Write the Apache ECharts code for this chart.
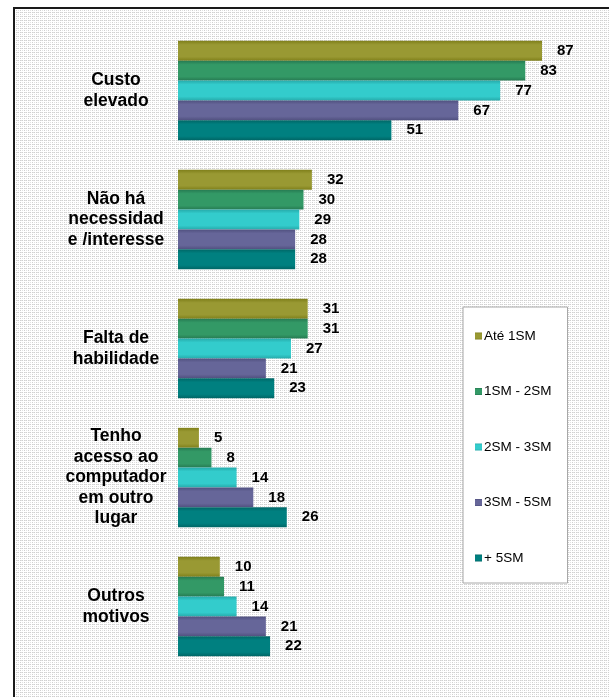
<!DOCTYPE html>
<html>
<head>
<meta charset="utf-8">
<style>
  html, body { margin: 0; padding: 0; background: #fff; }
  #chart { width: 609px; height: 697px; }
</style>
<script src="https://cdn.jsdelivr.net/npm/echarts@6/dist/echarts.min.js"></script>
</head>
<body>
<div id="chart"></div>
<script>
// Reasons for not having a computer, by income bracket (%)
const categories = [
  'Custo\nelevado',
  'Não há\nnecessidad\ne /interesse',
  'Falta de\nhabilidade',
  'Tenho\nacesso ao\ncomputador\nem outro\nlugar',
  'Outros\nmotivos'
];
const seriesNames = ['Até 1SM', '1SM - 2SM', '2SM - 3SM', '3SM - 5SM', '+ 5SM'];
const ate1 = [87, 32, 31, 5, 10];
const sm1a2 = [83, 30, 31, 8, 11];
const sm2a3 = [77, 29, 27, 14, 14];
const sm3a5 = [67, 28, 21, 18, 21];
const mais5 = [51, 28, 23, 26, 22];
const seriesValues = [ate1, sm1a2, sm2a3, sm3a5, mais5];

const baseColors = ['#999933', '#339966', '#33cccc', '#666699', '#008080'];
const edgeColors = ['#7f7f1a', '#267a52', '#26abab', '#50507f', '#006666'];

const FONT = '"Liberation Sans", Arial, sans-serif';

// fine grey hatch used as the plot backdrop
function makeHatch() {
  const c = document.createElement('canvas');
  c.width = 4; c.height = 4;
  const g = c.getContext('2d');
  g.fillStyle = '#ffffff';
  g.fillRect(0, 0, 4, 4);
  g.fillStyle = '#d0d0d0';
  for (let i = 0; i < 4; i += 2) { g.fillRect(i, 0, 1, 1); g.fillRect(0, i, 1, 1); }
  g.fillStyle = '#e2e2e2';
  g.fillRect(2, 2, 1, 1);
  g.fillRect(1, 0, 1, 1);
  return c;
}

const chart = echarts.init(document.getElementById('chart'), null, { renderer: 'canvas' });

const series = seriesNames.map((name, i) => ({
  name: name,
  type: 'bar',
  data: seriesValues[i],
  barGap: '0%',
  barCategoryGap: '23%',
  itemStyle: {
    color: new echarts.graphic.LinearGradient(0, 0, 0, 1, [
      { offset: 0, color: edgeColors[i] },
      { offset: 0.2, color: baseColors[i] },
      { offset: 0.8, color: baseColors[i] },
      { offset: 1, color: edgeColors[i] }
    ])
  },
  label: {
    show: true,
    position: 'right',
    distance: 15,
    color: '#000',
    fontFamily: FONT,
    fontWeight: 'bold',
    fontSize: 15
  }
}));

chart.setOption({
  animation: false,
  backgroundColor: '#ffffff',
  graphic: [{
    type: 'rect',
    z: -10,
    shape: { x: 14, y: 8, width: 620, height: 720 },
    style: {
      fill: { image: makeHatch(), repeat: 'repeat' },
      stroke: '#1a1a1a',
      lineWidth: 2
    },
    silent: true
  }],
  legend: {
    orient: 'vertical',
    left: 463,
    top: 307,
    padding: [22, 16, 18, 12],
    itemGap: 41.5,
    itemWidth: 7,
    itemHeight: 7,
    icon: 'rect',
    backgroundColor: '#ffffff',
    borderColor: '#a8a8a8',
    borderWidth: 1,
    textStyle: { fontFamily: FONT, fontSize: 13.5, color: '#000', padding: [0, 0, 0, -3] },
    data: seriesNames
  },
  grid: { left: 178, top: 26, width: 418.4, height: 645, containLabel: false },
  xAxis: {
    type: 'value',
    min: 0,
    max: 100,
    show: false
  },
  yAxis: {
    type: 'category',
    inverse: true,
    data: categories,
    axisLine: { show: false },
    axisTick: { show: false },
    splitLine: { show: false },
    axisLabel: {
      align: 'center',
      margin: 62,
      color: '#000',
      fontFamily: FONT,
      fontWeight: 'bold',
      fontSize: 17.5,
      lineHeight: 20.5
    }
  },
  series: series
});
</script>
</body>
</html>
